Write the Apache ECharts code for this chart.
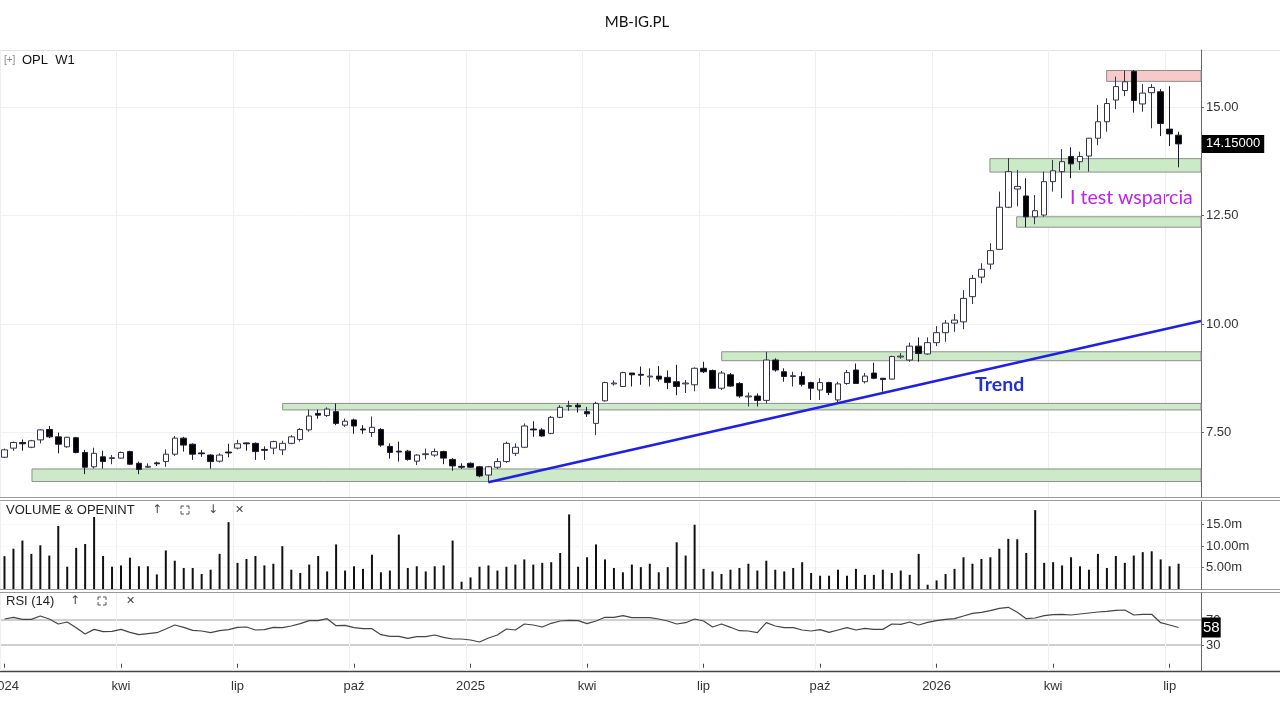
<!DOCTYPE html>
<html>

<head>
  <meta charset="utf-8">
  <title>MB-IG.PL - OPL W1</title>
  <script src="https://cdn.jsdelivr.net/npm/echarts@6.0.0/dist/echarts.min.js"></script>
  <style>
    html, body { margin: 0; padding: 0; background: #fff; }
    #main { width: 1280px; height: 720px; }
  </style>
</head>

<body>
  <div id="main"></div>
  <script type="text/javascript">
    // weekly candles, each one stamped on the Friday of its week
    const firstWeek = '2024-01-05';
    const emptyWeeks = 2; // free room right of the last candle

    const opens = [
      6.93, 7.14, 7.27, 7.16, 7.33, 7.57, 7.40, 7.17, 7.38, 7.04,
      6.71, 6.94, 6.90, 6.91, 7.06, 6.79, 6.70, 6.80, 6.83, 7.00,
      7.37, 7.23, 7.03, 6.98, 6.84, 7.05, 7.14, 7.26, 7.25, 7.11,
      7.14, 7.10, 7.25, 7.34, 7.56, 7.94, 7.89, 7.98, 7.67, 7.79,
      7.58, 7.50, 7.57, 7.18, 7.07, 7.07, 6.84, 6.99, 6.98, 7.06,
      6.88, 6.72, 6.79, 6.71, 6.52, 6.70, 6.83, 7.02, 7.16, 7.58,
      7.56, 7.48, 7.85, 8.10, 8.13, 7.98, 7.71, 8.23, 8.62, 8.56,
      8.87, 8.84, 8.78, 8.80, 8.77, 8.67, 8.62, 8.60, 8.98, 8.93,
      8.52, 8.83, 8.63, 8.32, 8.34, 8.24, 9.17, 8.90, 8.79, 8.79,
      8.65, 8.48, 8.65, 8.25, 8.63, 8.94, 8.67, 8.87, 8.75, 8.73,
      9.24, 9.17, 9.49, 9.31, 9.57, 9.80, 10.02, 10.05, 10.63, 11.08,
      11.38, 11.72, 12.69, 13.11, 12.95, 12.47, 12.51, 13.28, 13.51, 13.86,
      13.74, 13.87, 14.28, 14.66, 15.16, 15.38, 15.82, 15.07, 15.33, 15.35,
      14.49, 14.35
    ];
    const closes = [
      7.10, 7.27, 7.24, 7.31, 7.56, 7.40, 7.23, 7.39, 7.04, 6.70,
      7.02, 6.83, 6.92, 7.04, 6.77, 6.65, 6.72, 6.78, 7.00, 7.37,
      7.21, 7.00, 7.01, 6.83, 6.98, 7.03, 7.24, 7.24, 7.06, 7.09,
      7.29, 7.25, 7.40, 7.57, 7.88, 7.90, 8.04, 7.71, 7.76, 7.65,
      7.56, 7.62, 7.21, 7.04, 7.05, 6.88, 6.98, 7.01, 7.06, 6.91,
      6.73, 6.70, 6.70, 6.50, 6.71, 6.83, 7.25, 7.16, 7.65, 7.56,
      7.42, 7.85, 8.08, 8.12, 8.09, 7.93, 8.17, 8.65, 8.64, 8.88,
      8.83, 8.82, 8.80, 8.73, 8.65, 8.56, 8.64, 8.98, 8.90, 8.52,
      8.87, 8.57, 8.34, 8.34, 8.24, 9.17, 8.94, 8.79, 8.81, 8.61,
      8.52, 8.65, 8.42, 8.62, 8.88, 8.63, 8.80, 8.75, 8.72, 9.25,
      9.26, 9.49, 9.32, 9.57, 9.80, 10.02, 10.09, 10.59, 11.05, 11.26,
      11.69, 12.69, 13.51, 13.17, 12.47, 12.61, 13.28, 13.53, 13.74, 13.69,
      13.86, 14.28, 14.66, 15.08, 15.47, 15.58, 15.15, 15.32, 15.45, 14.62,
      14.38, 14.15
    ];
    const lows = [
      6.91, 7.08, 7.08, 7.14, 7.25, 7.37, 7.02, 7.15, 7.02, 6.54,
      6.67, 6.67, 6.77, 6.90, 6.75, 6.54, 6.69, 6.73, 6.71, 6.96,
      7.06, 6.87, 6.94, 6.67, 6.81, 6.93, 7.11, 7.08, 6.87, 6.87,
      7.00, 6.98, 7.23, 7.29, 7.52, 7.82, 7.86, 7.67, 7.63, 7.47,
      7.47, 7.40, 7.17, 6.90, 6.83, 6.85, 6.75, 6.88, 6.94, 6.77,
      6.62, 6.66, 6.68, 6.47, 6.35, 6.66, 6.80, 6.96, 7.14, 7.40,
      7.40, 7.46, 7.83, 8.00, 7.96, 7.86, 7.44, 8.21, 8.58, 8.56,
      8.56, 8.60, 8.56, 8.67, 8.50, 8.36, 8.41, 8.45, 8.87, 8.52,
      8.48, 8.55, 8.30, 8.10, 8.10, 8.17, 8.90, 8.67, 8.56, 8.56,
      8.25, 8.25, 8.36, 8.16, 8.60, 8.63, 8.63, 8.73, 8.44, 8.72,
      9.20, 9.13, 9.13, 9.29, 9.49, 9.59, 9.82, 9.88, 10.46, 10.94,
      11.26, 11.71, 12.67, 12.71, 12.23, 12.30, 12.47, 13.05, 12.90, 13.36,
      13.55, 13.51, 14.12, 14.43, 14.95, 15.25, 14.87, 14.89, 14.51, 14.33,
      14.10, 13.61
    ];
    const highs = [
      7.13, 7.29, 7.34, 7.33, 7.58, 7.65, 7.50, 7.40, 7.40, 7.10,
      7.15, 7.08, 6.98, 7.06, 7.08, 6.83, 6.79, 6.83, 7.11, 7.42,
      7.40, 7.25, 7.10, 7.00, 7.02, 7.24, 7.33, 7.27, 7.27, 7.18,
      7.31, 7.31, 7.44, 7.60, 8.03, 8.03, 8.08, 8.17, 7.82, 7.82,
      7.67, 7.87, 7.60, 7.25, 7.29, 7.10, 7.00, 7.13, 7.13, 7.08,
      6.91, 6.79, 6.81, 6.73, 6.73, 6.91, 7.29, 7.25, 7.71, 7.76,
      7.60, 7.88, 8.13, 8.23, 8.18, 8.09, 8.21, 8.67, 8.70, 8.90,
      8.87, 9.02, 8.98, 9.03, 8.93, 9.06, 8.71, 9.00, 9.13, 8.95,
      8.92, 8.87, 8.66, 8.42, 8.40, 9.36, 9.21, 8.98, 8.90, 8.90,
      8.67, 8.75, 8.67, 8.67, 8.94, 9.09, 8.87, 9.11, 8.75, 9.27,
      9.33, 9.57, 9.69, 9.69, 9.95, 10.09, 10.23, 10.78, 11.13, 11.40,
      11.86, 13.05, 13.82, 13.55, 13.36, 12.97, 13.51, 13.78, 14.03, 14.07,
      13.97, 14.28, 15.05, 15.20, 15.70, 15.84, 15.85, 15.53, 15.53, 15.41,
      15.48, 14.43
    ];
    // millions of shares
    const volumes = [
      7.66, 9.4, 11.3, 8.2, 10.2, 7.8, 14.7, 5.2, 9.6, 10.5,
      16.8, 7.7, 5.2, 5.5, 7.3, 5.3, 5.3, 3.4, 9.0, 6.6,
      4.9, 4.9, 3.5, 4.5, 8.2, 15.6, 6.1, 7.0, 7.7, 5.5,
      5.9, 10.0, 4.5, 3.75, 5.7, 7.7, 4.1, 10.4, 4.3, 5.3,
      4.7, 8.0, 3.9, 4.3, 12.7, 4.9, 5.3, 4.1, 5.3, 5.5,
      11.3, 1.7, 2.7, 5.2, 5.5, 4.3, 5.2, 5.7, 6.9, 5.7,
      6.1, 6.25, 8.4, 17.4, 5.2, 7.4, 10.4, 6.9, 4.9, 3.9,
      5.7, 5.1, 5.9, 3.9, 5.1, 10.9, 7.8, 15.0, 4.7, 4.1,
      3.5, 4.5, 4.9, 5.9, 4.3, 6.6, 4.5, 4.1, 4.9, 6.25,
      3.75, 3.1, 3.1, 4.5, 3.1, 4.7, 3.3, 3.3, 4.5, 3.75,
      4.3, 3.3, 8.2, 1.0, 2.0, 3.5, 4.7, 7.4, 5.9, 7.0,
      7.4, 9.4, 11.7, 11.6, 8.4, 18.4, 6.1, 6.25, 5.5, 7.4,
      5.3, 4.5, 8.2, 4.9, 7.7, 6.1, 7.8, 8.6, 8.8, 6.9,
      5.3, 5.9
    ];
    const rsi = [
      71.6, 74.3, 71, 71, 76.4, 71.6, 63.6, 66.8, 57.7, 47.6,
      55, 51.3, 51.9, 55, 50.3, 46.5, 48.1, 49.7, 55.6, 62,
      58.3, 53.5, 52.4, 49.7, 52.9, 54.5, 58.3, 58.8, 54, 54.5,
      58.3, 57.7, 60.4, 64.1, 68.9, 68.9, 72.1, 60.9, 61.5, 57.7,
      56.1, 56.1, 46.5, 43.9, 43.9, 40.7, 43.3, 43.3, 46, 42.3,
      39.6, 39.6, 38, 34.8, 41.2, 46, 55.6, 54, 63.6, 62,
      58.8, 64.7, 68.4, 69.5, 68.9, 64.1, 68.4, 74.3, 74.3, 76.9,
      73.7, 73.7, 73.7, 71.6, 68.4, 63.6, 65.7, 71.6, 68.4, 58.8,
      63.6, 58.3, 52.9, 52.4, 49.7, 65.7, 60.4, 57.7, 57.7, 54,
      52.4, 54.5, 50.3, 54, 57.7, 54, 56.7, 55, 55, 63.6,
      63, 66.8, 62, 66.3, 68.9, 71.1, 72.1, 76.4, 80.7, 82.3,
      84.9, 88.7, 90.3, 82.3, 72.1, 73.2, 76.9, 78.5, 79.1, 78,
      79.6, 81.2, 82.8, 83.9, 85.5, 86, 78, 79.1, 79.1, 65.7,
      62, 58
    ];

    const priceTicks = [7.5, 10, 12.5, 15];
    const volumeTicks = [5, 10, 15];
    const volumeTickLabels = ['5.00m', '10.00m', '15.0m'];
    const rsiTicks = [30, 70];
    const monthNames = ['sty', 'lut', 'mar', 'kwi', 'maj', 'cze', 'lip', 'sie', 'wrz', 'paź', 'lis', 'gru'];

    // drawn zones: [first week index, upper price, lower price], they run to the right edge
    const supportZones = [
      [3.07, 6.66, 6.37],
      [31.04, 8.17, 8.02],
      [80.02, 9.36, 9.155],
      [109.95, 13.81, 13.50],
      [112.93, 12.47, 12.23]
    ];
    const resistanceZones = [[122.97, 15.84, 15.59]];
    // trend line: [week index, price]
    const trendLine = [[53.98, 6.353], [133.5, 10.069]];

    const weeks = [];
    const t0 = Date.parse(firstWeek + 'T00:00:00Z');
    for (let i = 0; i < closes.length + emptyWeeks; i++) {
      weeks.push(new Date(t0 + i * 7 * 864e5).toISOString().slice(0, 10));
    }

    // first candle of jan / apr / jul / oct
    const isQuarterStart = (idx, val) => {
      const d = new Date(val + 'T00:00:00Z');
      return d.getUTCDate() <= 7 && d.getUTCMonth() % 3 === 0;
    };
    const quarterLabel = (val) => {
      const d = new Date(val + 'T00:00:00Z');
      return d.getUTCMonth() === 0 ? String(d.getUTCFullYear()) : monthNames[d.getUTCMonth()];
    };

    const axisFont = 'Liberation Sans, Arial, sans-serif';
    const noteFont = 'Lato, Noto Sans, sans-serif';

    const catAxis = (gridIndex, withLabels) => ({
      type: 'category',
      gridIndex,
      data: weeks,
      boundaryGap: true,
      axisLine: { show: false },
      axisTick: {
        show: withLabels, interval: isQuarterStart, alignWithLabel: true,
        length: 4, lineStyle: { color: '#444' }
      },
      axisLabel: {
        show: withLabels, interval: isQuarterStart, formatter: quarterLabel,
        color: '#333', fontSize: 13, fontFamily: axisFont, margin: 9
      },
      splitLine: { show: true, interval: isQuarterStart, lineStyle: { color: '#efefef' } }
    });

    const rightAxis = (gridIndex, min, max, ticks, fmt, gridColor) => ({
      type: 'value',
      gridIndex,
      position: 'right',
      min, max,
      axisLine: { show: true, onZero: false, lineStyle: { color: '#666' } },
      axisTick: { show: true, length: 3, customValues: ticks, lineStyle: { color: '#666' } },
      axisLabel: {
        customValues: ticks, formatter: fmt, color: '#333',
        fontSize: 13, fontFamily: axisFont, margin: 5
      },
      splitLine: { show: true, lineStyle: gridColor }
    });

    // last value tag sitting on the right axis
    const lastValueTag = (value, text, fontSize, padding) => ({
      silent: true,
      symbol: ['none', 'none'],
      lineStyle: { color: 'rgba(0,0,0,0)', width: 1 },
      label: {
        show: true, position: 'end', distance: 1, formatter: text,
        backgroundColor: '#000', color: '#fff', opacity: 1, padding,
        fontSize, fontFamily: axisFont
      },
      data: [{ yAxis: value }]
    });

    // little "expand" icon made of four corners
    const cornersIcon = (x, y) => ({
      type: 'group',
      children: [
        [[x, y + 3], [x, y], [x + 3, y]],
        [[x + 5, y], [x + 8, y], [x + 8, y + 3]],
        [[x + 8, y + 5], [x + 8, y + 8], [x + 5, y + 8]],
        [[x + 3, y + 8], [x, y + 8], [x, y + 5]]
      ].map(points => ({
        type: 'polyline', shape: { points }, style: { stroke: '#555', lineWidth: 1, fill: null }
      }))
    });

    const label = (text, x, y, font, fill, align) => ({
      type: 'text',
      style: {
        text, x, y, font, fill,
        align: align || 'left', textAlign: align || 'left',
        verticalAlign: 'middle', textVerticalAlign: 'middle'
      }
    });

    const hline = (y, color, width) => ({
      type: 'line',
      shape: { x1: 0, y1: y, x2: 1280, y2: y },
      style: { stroke: color, lineWidth: width || 1 }
    });

    const zoneArea = (zones, fill) => zones.map(z => [
      { coord: [z[0], z[1]], itemStyle: { color: fill, borderColor: '#8e8e8e', borderWidth: 1 } },
      { coord: [weeks.length - 0.5, z[2]] }
    ]);

    const main = () => {
      const myChart = echarts.init(document.getElementById('main'), null, { renderer: 'canvas' });
      const last = closes.length - 1;

      const option = {
        animation: false,
        backgroundColor: '#fff',
        textStyle: { fontFamily: axisFont },
        grid: [
          { left: 0, width: 1201, top: 50, height: 447, outerBoundsMode: 'none' },
          { left: 0, width: 1201, top: 502, height: 87, outerBoundsMode: 'none' },
          { left: 0, width: 1201, top: 593, height: 78, outerBoundsMode: 'none' }
        ],
        xAxis: [
          catAxis(0, false),
          catAxis(1, false),
          catAxis(2, true),
          { type: 'value', gridIndex: 0, min: -0.5, max: weeks.length - 0.5, show: false }
        ],
        yAxis: [
          rightAxis(0, 6.014, 16.313, priceTicks, v => v.toFixed(2), { color: '#f0f0f0' }),
          rightAxis(1, 0, 20.3, volumeTicks, v => volumeTickLabels[volumeTicks.indexOf(v)], { color: '#f0f0f0', type: 'dotted' }),
          rightAxis(2, -11.6, 113.2, rsiTicks, v => String(v), { color: '#cfcfcf', width: 2 })
        ],
        series: [
          {
            type: 'candlestick',
            xAxisIndex: 0,
            yAxisIndex: 0,
            barWidth: 6,
            z: 3,
            data: closes.map((c, i) => [opens[i], c, lows[i], highs[i]]),
            itemStyle: {
              color: '#fff', color0: '#000',
              borderColor: '#33334d', borderColor0: '#1a1a33', borderWidth: 1
            },
            markLine: lastValueTag(closes[last], p => p.value.toFixed(5), 13, [3, 4, 2, 4])
          },
          {
            type: 'line',
            xAxisIndex: 3,
            yAxisIndex: 0,
            z: 4,
            data: trendLine,
            symbol: 'none',
            lineStyle: { color: '#1f1fe6', width: 2.5 },
            markArea: {
              silent: true,
              data: zoneArea(supportZones, '#cce9c8').concat(zoneArea(resistanceZones, '#f8c9c9'))
            }
          },
          {
            type: 'bar',
            xAxisIndex: 1,
            yAxisIndex: 1,
            barWidth: 2,
            data: volumes,
            itemStyle: { color: '#111' }
          },
          {
            type: 'line',
            xAxisIndex: 2,
            yAxisIndex: 2,
            data: rsi,
            symbol: 'none',
            lineStyle: { color: '#444', width: 1.2 },
            markLine: lastValueTag(rsi[last], p => String(Math.round(p.value)), 15, [3, 1, 2, 1])
          }
        ],
        graphic: [
          label('MB-IG.PL', 637, 22, '15px ' + noteFont, '#111', 'center'),
          hline(50.5, '#e2e2e2'),
          hline(497.5, '#9a9a9a'),
          hline(500.5, '#9a9a9a'),
          hline(589.5, '#9a9a9a'),
          hline(592.5, '#9a9a9a'),
          hline(671.5, '#444', 1.5),
          label('[+]', 4, 60, '10px ' + axisFont, '#888'),
          label('OPL  W1', 22, 60, '13px ' + axisFont, '#111'),
          label('VOLUME & OPENINT', 6, 510, '13px ' + axisFont, '#222'),
          label('↑', 152, 510, '12px DejaVu Sans', '#444'),
          cornersIcon(181, 506),
          label('↓', 208, 510, '12px DejaVu Sans', '#444'),
          label('✕', 235, 510, '11px DejaVu Sans', '#444'),
          label('RSI (14)', 6, 601, '13px ' + axisFont, '#222'),
          label('↑', 70, 601, '12px DejaVu Sans', '#444'),
          cornersIcon(98, 597),
          label('✕', 126, 601, '11px DejaVu Sans', '#444'),
          label('Trend', 975, 385, 'bold 19.5px ' + noteFont, '#1f2fd9'),
          label('I test wsparcia', 1070, 198, '19.5px ' + noteFont, '#c21ff0')
        ]
      };

      myChart.setOption(option);
    };

    main();
  </script>
</body>

</html>
